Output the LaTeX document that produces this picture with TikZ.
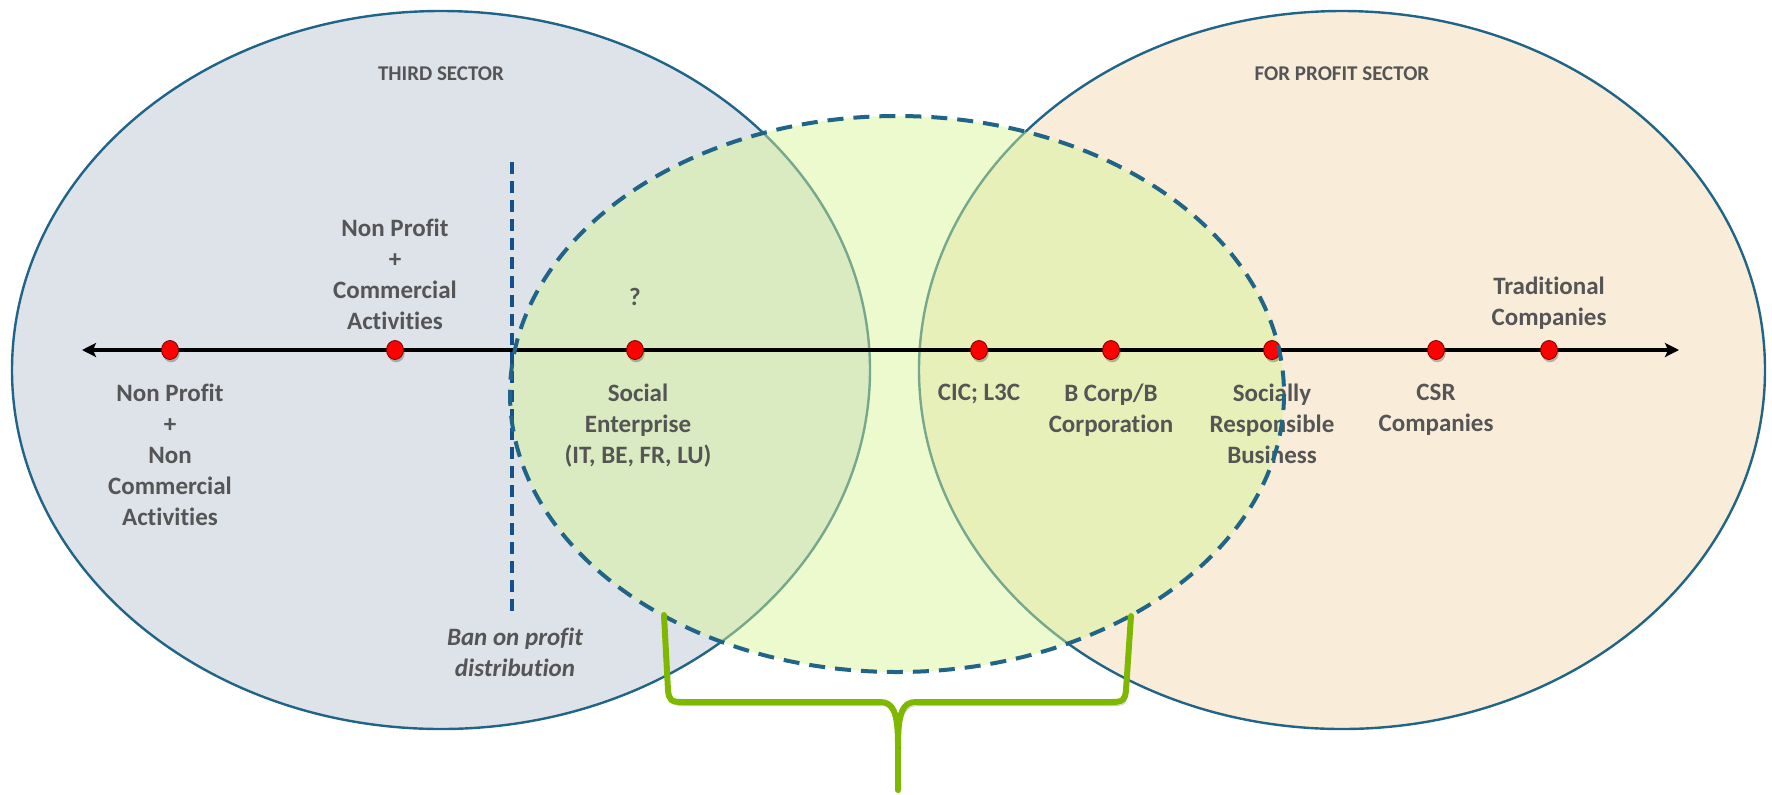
\documentclass[tikz,border=0pt]{standalone}
\usepackage{fontspec}
\setmainfont{Carlito}[Ligatures={NoCommon}]
\usetikzlibrary{arrows.meta,positioning,shapes.geometric,shadows}

\definecolor{thirdfill}{HTML}{DEE2E9}
\definecolor{profitfill}{HTML}{F9EDDA}
\definecolor{hybridfill}{RGB}{214,245,149}
\definecolor{rim}{HTML}{206487}
\definecolor{banblue}{HTML}{14508C}
\definecolor{txtgray}{HTML}{555555}
\definecolor{bracegreen}{HTML}{7FB800}

\tikzset{
  sector/.style={draw=rim, line width=1.2pt},
  hybrid/.style={draw=rim, line width=2pt, dash pattern=on 8pt off 5pt},
  banline/.style={draw=banblue, line width=1.7pt, dash pattern=on 6pt off 3.5pt},
  axis/.style={draw=black, line width=2pt},
  dot/.style={ellipse, fill=red, draw=red!45!black, line width=0.4pt, inner sep=0pt,
    minimum width=8.5pt, minimum height=9.5pt,
    drop shadow={shadow xshift=0.6pt, shadow yshift=-1.4pt, fill=black, opacity=.25}},
  lbl/.style={font=\bfseries\fontsize{12.5}{15.5}\selectfont, text=txtgray, align=center, inner sep=0pt},
  title/.style={font=\bfseries\fontsize{10.5}{12}\selectfont, text=txtgray},
  brace/.style={draw=bracegreen, line width=3pt, line cap=round, line join=round,
    preaction={draw=black, opacity=.2, transform canvas={xshift=0.8pt, yshift=-1.8pt}}},
}

\begin{document}
\begin{tikzpicture}[x=0.5pt, y=-0.5pt, >={Stealth[length=7pt, width=7pt, inset=1.5pt]}]
  \useasboundingbox (0,0) rectangle (1772,794);

  % third sector and for profit sector
  \filldraw[fill=thirdfill, sector] (441,370) ellipse [x radius=429, y radius=359];
  \filldraw[fill=profitfill, sector] (1342,370) ellipse [x radius=423, y radius=359];
  \node[title] (third) at (441,74) {THIRD SECTOR};
  \node[title] (forprofit) at (1342,74) {FOR PROFIT SECTOR};

  % hybrid zone in between
  \fill[hybridfill, fill opacity=.47] (897,394) ellipse [x radius=387, y radius=278];

  % the axis
  \coordinate (axL) at (82,350);
  \coordinate (axR) at (1679,350);
  \draw[axis, <->] (axL) -- (axR);

  % ban on profit distribution
  \coordinate (banTop) at (512,162);
  \coordinate (banEnd) at (512,613);
  \draw[banline] (banTop) -- (banEnd);
  \node[lbl, font=\bfseries\itshape\fontsize{12.5}{15.5}\selectfont, below=7.5pt of banEnd, xshift=1.5pt] (ban) {Ban on profit\\distribution};

  % organisations along the axis
  \node[dot] (np)  at (170,350) {};
  \node[dot] (npc) at (395,350) {};
  \node[dot] (se)  at (635,350) {};
  \node[dot] (cic) at (979,350) {};
  \node[dot] (bc)  at (1111,350) {};
  \node[dot] (srb) at (1272,350) {};
  \node[dot] (csr) at (1436,350) {};
  \node[dot] (tc)  at (1549,350) {};

  \node[lbl, below=12pt of np] (npT) {Non Profit\\+\\Non\\Commercial\\Activities};
  \node[lbl, above=5pt of npc] (npcT) {Non Profit\\+\\Commercial\\Activities};
  \node[lbl, above=17pt of se] (seQ) {?};
  \node[lbl, below=12pt of se, xshift=1.5pt] (seT) {Social\\Enterprise\\(IT, BE, FR, LU)};
  \node[lbl, below=12pt of cic] (cicT) {CIC; L3C};
  \node[lbl, below=12pt of bc] (bcT) {B Corp/B\\Corporation};
  \node[lbl, below=12pt of srb] (srbT) {Socially\\Responsible\\Business};
  \node[lbl, below=12pt of csr] (csrT) {CSR\\Companies};
  \node[lbl, above=5pt of tc] (tcT) {Traditional\\Companies};

  \draw[hybrid] (897,394) ellipse [x radius=387, y radius=278];

  % brace under the hybrid zone
  \coordinate (brL) at (664,615);
  \coordinate (brR) at (1131,616);
  \coordinate (brTip) at (898,790);
  \draw[brace] (brL) -- (668,690) .. controls (669,700) and (671,702) .. (682,702)
    -- (880,702) .. controls (893,702) and (898,712) .. (898,745) -- (brTip);
  \draw[brace] (brR) -- (1126,690) .. controls (1125,700) and (1123,702) .. (1112,702)
    -- (916,702) .. controls (903,702) and (898,712) .. (898,745);
\end{tikzpicture}
\end{document}
